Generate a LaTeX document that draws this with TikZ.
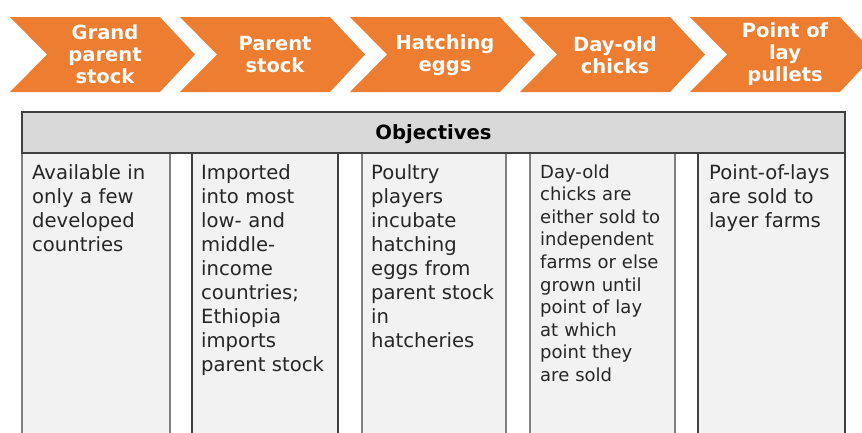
\documentclass[tikz,border=0pt]{standalone}
\usepackage{fontspec}
\setmainfont{DejaVu Sans}
\definecolor{chevorange}{HTML}{ED7D31}
\definecolor{headfill}{HTML}{D9D9D9}
\definecolor{colfill}{HTML}{F2F2F2}
\definecolor{darkedge}{HTML}{404040}
\definecolor{greyedge}{HTML}{808080}
\definecolor{bodytext}{HTML}{262626}
\tikzset{
  chevron/.style={fill=chevorange, draw=none},
  chevtext/.style={text=white, align=center, inner sep=0pt,
    font=\fontsize{19.5}{22}\selectfont\bfseries},
  headbox/.style={fill=headfill, draw=darkedge, line width=2pt},
  headtext/.style={text=black, inner sep=0pt,
    font=\fontsize{19.6}{24}\selectfont\bfseries},
  colbox/.style={fill=colfill, draw=greyedge, line width=1.6pt},
  colboxdark/.style={fill=colfill, draw=darkedge, line width=1.2pt},
  coltext/.style={text=bodytext, anchor=base west, inner sep=0pt,
    text width=160pt, align=left,
    font=\fontsize{19.6}{24}\selectfont},
  coltextsmall/.style={coltext, font=\fontsize{18}{22.6}\selectfont},
}
\begin{document}
\begin{tikzpicture}[x=1pt, y=-1pt]
\useasboundingbox (0,0) rectangle (862,432);
\clip (0,0) rectangle (862,432);

% value chain chevrons
\foreach \k in {0,...,4}{
  \pgfmathsetmacro{\L}{10+170*\k}
  \fill[chevron] (\L,17) -- (\L+150,17) -- (\L+185,54.5) -- (\L+150,92)
    -- (\L,92) -- (\L+37,54.5) -- cycle;
}
\node[chevtext] (s1) at (105,54) {Grand\\parent\\stock};
\node[chevtext] (s2) at (275,55) {Parent\\stock};
\node[chevtext] (s3) at (445,55) {Hatching\\eggs};
\node[chevtext] (s4) at (615,55) {Day-old\\chicks};
\node[chevtext] (s5) at (785,54) {Point of\\lay\\pullets};

% objective columns
\draw[colbox]     (22,153)  rectangle (170,445);
\draw[colboxdark] (192,153) rectangle (338,445);
\draw[colbox]     (362,153) rectangle (506,445);
\draw[colbox]     (530,153) rectangle (675,445);
\draw[colboxdark] (698,153) rectangle (845,445);

% header bar
\draw[headbox] (22,112) rectangle (845,153);
\node[headtext] (obj) at (433.5,134) {Objectives};

% column texts
\node[coltext] (t1) at (32,179) {Available in\\only a few\\developed\\countries};
\node[coltext] (t2) at (201,179) {Imported\\into most\\low- and\\middle-\\income\\countries;\\Ethiopia\\imports\\parent stock};
\node[coltext] (t3) at (371,179) {Poultry\\players\\incubate\\hatching\\eggs from\\parent stock\\in\\hatcheries};
\node[coltextsmall] (t4) at (540,178) {Day-old\\chicks are\\either sold to\\independent\\farms or else\\grown until\\point of lay\\at which\\point they\\are sold};
\node[coltext] (t5) at (709,179) {Point-of-lays\\are sold to\\layer farms};
\end{tikzpicture}
\end{document}
